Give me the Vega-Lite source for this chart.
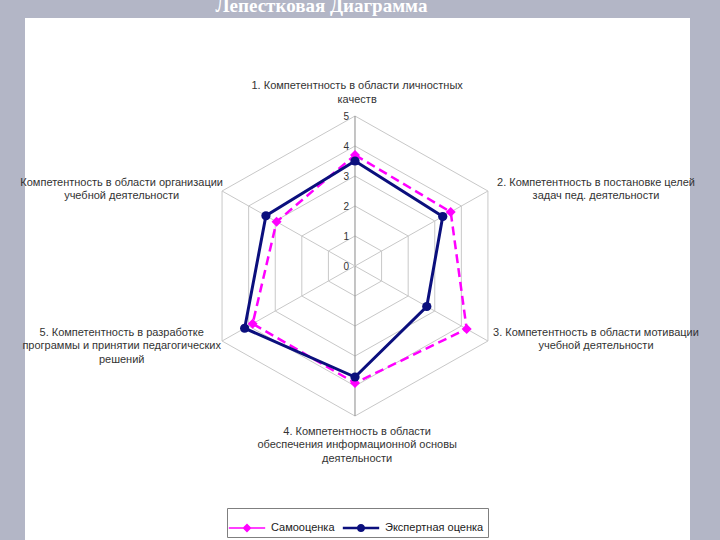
{
  "$schema": "https://vega.github.io/schema/vega-lite/v6.json",
  "width": 665,
  "height": 522,
  "autosize": {"type": "none"},
  "padding": {"left": 25, "top": 18, "right": 30, "bottom": 0},
  "background": "#b3b6c6",
  "view": {"fill": "white", "stroke": null},
  "title": {
    "text": "Лепестковая Диаграмма",
    "font": "Liberation Serif",
    "fontSize": 19,
    "fontWeight": "bold",
    "color": "white",
    "anchor": "middle",
    "frame": "group",
    "baseline": "alphabetic",
    "offset": -13,
    "dx": -36
  },
  "datasets": {
    "axes": [
      {"axis": 1, "label": "1. Компетентность в области личностных\nкачеств"},
      {"axis": 2, "label": "2. Компетентность в постановке целей\nзадач пед. деятельности"},
      {"axis": 3, "label": "3. Компетентность в области мотивации\nучебной деятельности"},
      {"axis": 4, "label": "4. Компетентность в области\nобеспечения информационной основы\nдеятельности"},
      {"axis": 5, "label": "5. Компетентность в разработке\nпрограммы и принятии педагогических\nрешений"},
      {"axis": 6, "label": "Компетентность в области организации\nучебной деятельности"}
    ],
    "rings": [
      {"level": 1, "axis": [1, 2, 3, 4, 5, 6]},
      {"level": 2, "axis": [1, 2, 3, 4, 5, 6]},
      {"level": 3, "axis": [1, 2, 3, 4, 5, 6]},
      {"level": 4, "axis": [1, 2, 3, 4, 5, 6]},
      {"level": 5, "axis": [1, 2, 3, 4, 5, 6]}
    ],
    "levels": [
      {"level": 0}, {"level": 1}, {"level": 2}, {"level": 3}, {"level": 4}, {"level": 5}
    ],
    "scores": [
      {"series": "Самооценка", "axis": 1, "value": 3.7},
      {"series": "Самооценка", "axis": 2, "value": 3.6},
      {"series": "Самооценка", "axis": 3, "value": 4.2},
      {"series": "Самооценка", "axis": 4, "value": 3.9},
      {"series": "Самооценка", "axis": 5, "value": 3.85},
      {"series": "Самооценка", "axis": 6, "value": 2.95},
      {"series": "Экспертная оценка", "axis": 1, "value": 3.5},
      {"series": "Экспертная оценка", "axis": 2, "value": 3.3},
      {"series": "Экспертная оценка", "axis": 3, "value": 2.7},
      {"series": "Экспертная оценка", "axis": 4, "value": 3.7},
      {"series": "Экспертная оценка", "axis": 5, "value": 4.15},
      {"series": "Экспертная оценка", "axis": 6, "value": 3.35}
    ]
  },
  "layer": [
    {
      "data": {"name": "rings"},
      "transform": [
        {"flatten": ["axis"]},
        {"calculate": "PI/2 - (datum.axis-1)*PI/3", "as": "a"},
        {"calculate": "datum.level*cos(datum.a)", "as": "px"},
        {"calculate": "datum.level*sin(datum.a)", "as": "py"}
      ],
      "mark": {"type": "line", "interpolate": "linear-closed", "color": "#c8c8c8", "strokeWidth": 1},
      "encoding": {
        "x": {"field": "px", "type": "quantitative", "scale": {"domain": [-10.749, 10.912], "nice": false, "zero": false}, "axis": null},
        "y": {"field": "py", "type": "quantitative", "scale": {"domain": [-9.1333, 8.2667], "nice": false, "zero": false}, "axis": null},
        "detail": {"field": "level", "type": "nominal"},
        "order": {"field": "axis", "type": "quantitative"}
      }
    },
    {
      "data": {"name": "axes"},
      "transform": [
        {"calculate": "PI/2 - (datum.axis-1)*PI/3", "as": "a"},
        {"calculate": "0", "as": "ox"},
        {"calculate": "0", "as": "oy"},
        {"calculate": "5*cos(datum.a)", "as": "sx"},
        {"calculate": "5*sin(datum.a)", "as": "sy"},
        {"calculate": "datum.axis == 1 || datum.axis == 4 ? 'main' : 'other'", "as": "kind"}
      ],
      "mark": {"type": "rule", "strokeWidth": 1},
      "encoding": {
        "x": {"field": "ox", "type": "quantitative", "scale": {"domain": [-10.749, 10.912], "nice": false, "zero": false}, "axis": null},
        "y": {"field": "oy", "type": "quantitative", "scale": {"domain": [-9.1333, 8.2667], "nice": false, "zero": false}, "axis": null},
        "x2": {"field": "sx"},
        "y2": {"field": "sy"},
        "stroke": {"field": "kind", "type": "nominal", "scale": {"domain": ["main", "other"], "range": ["#8a8a8a", "#c8c8c8"]}, "legend": null}
      }
    },
    {
      "data": {"name": "levels"},
      "transform": [{"calculate": "0", "as": "ox"}],
      "mark": {"type": "text", "align": "right", "baseline": "middle", "dx": -6, "dy": 1, "font": "Liberation Sans", "fontSize": 10, "color": "#333333"},
      "encoding": {
        "x": {"field": "ox", "type": "quantitative", "scale": {"domain": [-10.749, 10.912], "nice": false, "zero": false}, "axis": null},
        "y": {"field": "level", "type": "quantitative", "scale": {"domain": [-9.1333, 8.2667], "nice": false, "zero": false}, "axis": null},
        "text": {"field": "level", "type": "quantitative"}
      }
    },
    {
      "data": {"name": "axes"},
      "transform": [
        {"calculate": "PI/2 - (datum.axis-1)*PI/3", "as": "a"},
        {"calculate": "abs(cos(datum.a)) < 0.1 ? 0.07 : (cos(datum.a) > 0 ? 7.85 : -7.6)", "as": "lx"},
        {"calculate": "abs(sin(datum.a)) > 0.9 ? (sin(datum.a) > 0 ? 6.0 : -5.52) : (sin(datum.a) > 0 ? 2.77 : -2.23)", "as": "ly"}
      ],
      "mark": {"type": "text", "align": "center", "baseline": "middle", "lineBreak": "\n", "lineHeight": 13.5, "font": "Liberation Sans", "fontSize": 11, "color": "#333333"},
      "encoding": {
        "x": {"field": "lx", "type": "quantitative", "scale": {"domain": [-10.749, 10.912], "nice": false, "zero": false}, "axis": null},
        "y": {"field": "ly", "type": "quantitative", "scale": {"domain": [-9.1333, 8.2667], "nice": false, "zero": false}, "axis": null},
        "text": {"field": "label", "type": "nominal"}
      }
    },
    {
      "data": {"name": "scores"},
      "transform": [
        {"filter": "datum.series == 'Самооценка'"},
        {"calculate": "PI/2 - (datum.axis-1)*PI/3", "as": "a"},
        {"calculate": "datum.value*cos(datum.a)", "as": "px"},
        {"calculate": "datum.value*sin(datum.a)", "as": "py"}
      ],
      "mark": {"type": "line", "interpolate": "linear-closed", "color": "#ff00ff", "strokeWidth": 2.5, "strokeDash": [9, 5]},
      "encoding": {
        "x": {"field": "px", "type": "quantitative", "scale": {"domain": [-10.749, 10.912], "nice": false, "zero": false}, "axis": null},
        "y": {"field": "py", "type": "quantitative", "scale": {"domain": [-9.1333, 8.2667], "nice": false, "zero": false}, "axis": null},
        "order": {"field": "axis", "type": "quantitative"}
      }
    },
    {
      "data": {"name": "scores"},
      "transform": [
        {"filter": "datum.series == 'Самооценка'"},
        {"calculate": "PI/2 - (datum.axis-1)*PI/3", "as": "a"},
        {"calculate": "datum.value*cos(datum.a)", "as": "px"},
        {"calculate": "datum.value*sin(datum.a)", "as": "py"}
      ],
      "mark": {"type": "point", "shape": "diamond", "filled": true, "color": "#ff00ff", "size": 100, "opacity": 1},
      "encoding": {
        "x": {"field": "px", "type": "quantitative", "scale": {"domain": [-10.749, 10.912], "nice": false, "zero": false}, "axis": null},
        "y": {"field": "py", "type": "quantitative", "scale": {"domain": [-9.1333, 8.2667], "nice": false, "zero": false}, "axis": null}
      }
    },
    {
      "data": {"name": "scores"},
      "transform": [
        {"filter": "datum.series == 'Экспертная оценка'"},
        {"calculate": "PI/2 - (datum.axis-1)*PI/3", "as": "a"},
        {"calculate": "datum.value*cos(datum.a)", "as": "px"},
        {"calculate": "datum.value*sin(datum.a)", "as": "py"}
      ],
      "mark": {"type": "line", "interpolate": "linear-closed", "color": "#0b0f7d", "strokeWidth": 3},
      "encoding": {
        "x": {"field": "px", "type": "quantitative", "scale": {"domain": [-10.749, 10.912], "nice": false, "zero": false}, "axis": null},
        "y": {"field": "py", "type": "quantitative", "scale": {"domain": [-9.1333, 8.2667], "nice": false, "zero": false}, "axis": null},
        "order": {"field": "axis", "type": "quantitative"}
      }
    },
    {
      "data": {"name": "scores"},
      "transform": [
        {"filter": "datum.series == 'Экспертная оценка'"},
        {"calculate": "PI/2 - (datum.axis-1)*PI/3", "as": "a"},
        {"calculate": "datum.value*cos(datum.a)", "as": "px"},
        {"calculate": "datum.value*sin(datum.a)", "as": "py"}
      ],
      "mark": {"type": "point", "shape": "circle", "filled": true, "color": "#0b0f7d", "size": 85, "opacity": 1},
      "encoding": {
        "x": {"field": "px", "type": "quantitative", "scale": {"domain": [-10.749, 10.912], "nice": false, "zero": false}, "axis": null},
        "y": {"field": "py", "type": "quantitative", "scale": {"domain": [-9.1333, 8.2667], "nice": false, "zero": false}, "axis": null}
      }
    },
    {
      "data": {"name": "scores"},
      "transform": [
        {"calculate": "PI/2 - (datum.axis-1)*PI/3", "as": "a"},
        {"calculate": "datum.value*cos(datum.a)", "as": "px"},
        {"calculate": "datum.value*sin(datum.a)", "as": "py"}
      ],
      "mark": {"type": "point", "filled": true, "opacity": 0},
      "encoding": {
        "x": {"field": "px", "type": "quantitative", "scale": {"domain": [-10.749, 10.912], "nice": false, "zero": false}, "axis": null},
        "y": {"field": "py", "type": "quantitative", "scale": {"domain": [-9.1333, 8.2667], "nice": false, "zero": false}, "axis": null},
        "color": {
          "field": "series", "type": "nominal",
          "scale": {"domain": ["Самооценка", "Экспертная оценка"], "range": ["#ff00ff", "#0b0f7d"]},
          "legend": {
            "title": null, "orient": "none", "legendX": 202, "legendY": 490, "direction": "horizontal",
            "strokeColor": "#7f7f7f", "fillColor": "white", "padding": 4, "symbolSize": 1000,
            "symbolOpacity": 1, "symbolStrokeWidth": 0,
            "labelFont": "Liberation Sans", "labelFontSize": 11,
            "labelColor": "#222222", "labelOffset": 8, "columnPadding": 7
          }
        },
        "shape": {
          "field": "series", "type": "nominal",
          "scale": {"domain": ["Самооценка", "Экспертная оценка"], "range": ["M-1.15,-0.045H1.15V0.045H-1.15ZM0,-0.285L0.285,0L0,0.285L-0.285,0Z", "M-1.15,-0.08H1.15V0.08H-1.15ZM-0.26,0A0.26,0.26,0,1,1,0.26,0A0.26,0.26,0,1,1,-0.26,0Z"]},
          "legend": {
            "title": null, "orient": "none", "legendX": 202, "legendY": 490, "direction": "horizontal",
            "strokeColor": "#7f7f7f", "fillColor": "white", "padding": 4, "symbolSize": 1000,
            "symbolOpacity": 1, "symbolStrokeWidth": 0,
            "labelFont": "Liberation Sans", "labelFontSize": 11,
            "labelColor": "#222222", "labelOffset": 8, "columnPadding": 7
          }
        }
      }
    }
  ]
}
